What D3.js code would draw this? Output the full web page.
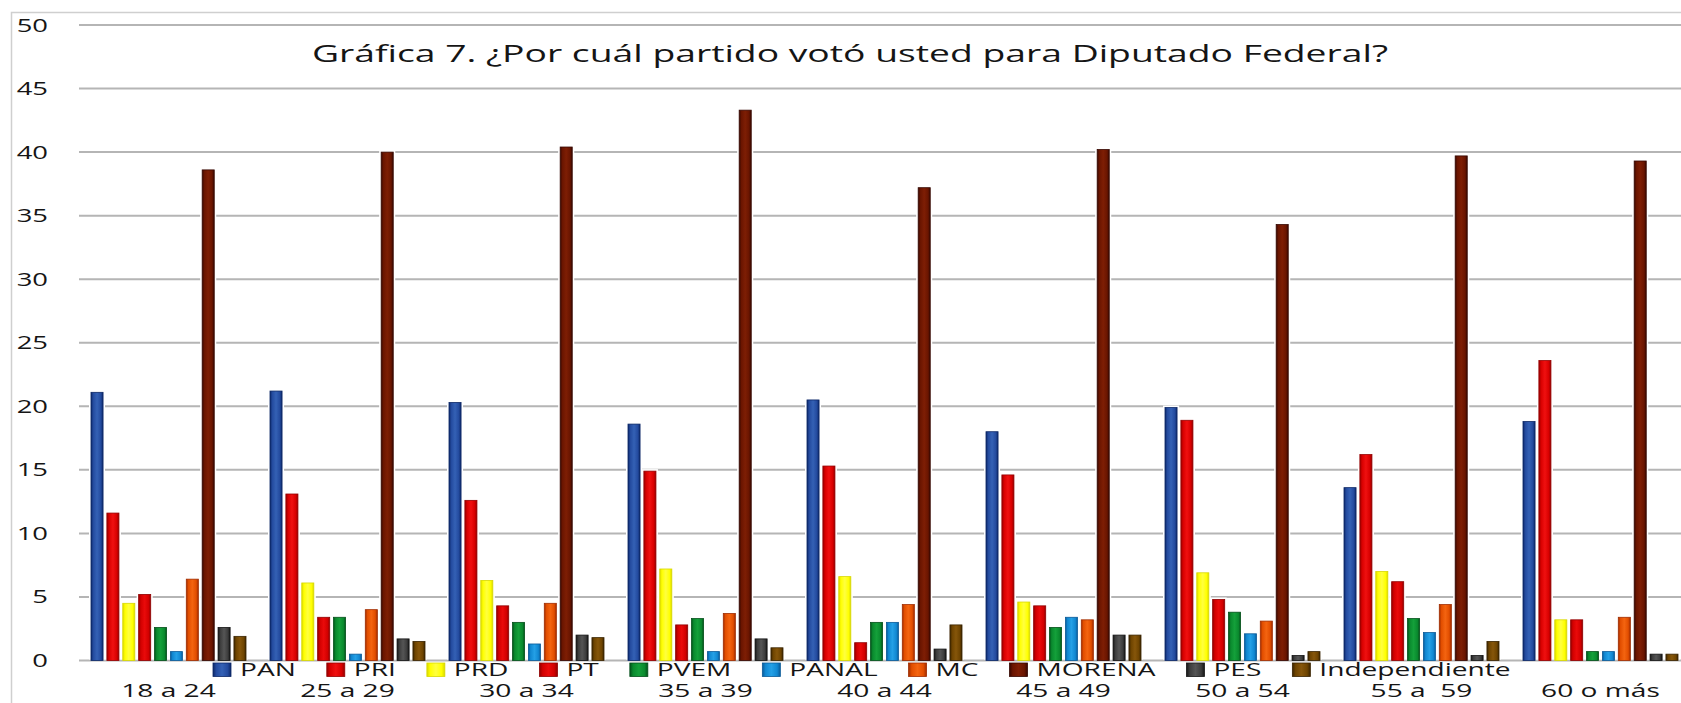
<!DOCTYPE html>
<html><head><meta charset="utf-8">
<script src="https://cdn.jsdelivr.net/npm/d3@7"></script>
<style>
html,body{margin:0;padding:0;background:#fff;overflow:hidden}
text{font-family:"Open Sans","DejaVu Sans",sans-serif;fill:#151515;white-space:pre}
</style></head>
<body><svg id="c" width="1681" height="703"></svg>
<script>
const title = "Gráfica 7. ¿Por cuál partido votó usted para Diputado Federal?";
const categories = ["18 a 24","25 a 29","30 a 34","35 a 39","40 a 44","45 a 49","50 a 54","55 a  59","60 o más"];
const parties = ["PAN","PRI","PRD","PT","PVEM","PANAL","MC","MORENA","PES","Independiente"];
const PAN    = [21.1,21.2,20.3,18.6,20.5,18.0,19.9,13.6,18.8];
const PRI    = [11.6,13.1,12.6,14.9,15.3,14.6,18.9,16.2,23.6];
const PRD    = [4.5,6.1,6.3,7.2,6.6,4.6,6.9,7.0,3.2];
const PT     = [5.2,3.4,4.3,2.8,1.4,4.3,4.8,6.2,3.2];
const PVEM   = [2.6,3.4,3.0,3.3,3.0,2.6,3.8,3.3,0.7];
const PANAL  = [0.7,0.5,1.3,0.7,3.0,3.4,2.1,2.2,0.7];
const MC     = [6.4,4.0,4.5,3.7,4.4,3.2,3.1,4.4,3.4];
const MORENA = [38.6,40.0,40.4,43.3,37.2,40.2,34.3,39.7,39.3];
const PES    = [2.6,1.7,2.0,1.7,0.9,2.0,0.4,0.4,0.5];
const INDEP  = [1.9,1.5,1.8,1.0,2.8,2.0,0.7,1.5,0.5];
const yTicks = [0,5,10,15,20,25,30,35,40,45,50];

const seriesValues = [PAN,PRI,PRD,PT,PVEM,PANAL,MC,MORENA,PES,INDEP];
// [edge, base, highlight]
const colors = [
  ["#0c2766","#234a9e","#3461b5"],
  ["#950000","#d80000","#f01010"],
  ["#d8d800","#ffff00","#ffff40"],
  ["#900000","#d20000","#ea0a0a"],
  ["#03501a","#0a8a2e","#14a03a"],
  ["#0a5a98","#1188d2","#24a0e6"],
  ["#a02c00","#e24e00","#f46410"],
  ["#360700","#6a1500","#7e1e04"],
  ["#141414","#3c3c3c","#555555"],
  ["#3a2400","#6e4400","#86560a"]
];

const SX = 1.48;
const SXL = 1.56;
const svg = d3.select("#c");
const W = 1681, H = 703;
const x0 = 79, x1 = 1690, yBottom = 660.5, yTop = 25;

const defs = svg.append("defs");
colors.forEach((c,i)=>{
  const g = defs.append("linearGradient").attr("id","g"+i).attr("x1","0").attr("x2","1").attr("y1","0").attr("y2","0");
  [[0,c[0]],[0.18,c[1]],[0.5,c[2]],[0.82,c[1]],[1,c[0]]].forEach(s=>g.append("stop").attr("offset",s[0]).attr("stop-color",s[1]));
});

// frame
svg.append("path").attr("d",`M11.5,${H}V12.5H${W}`).attr("fill","none").attr("stroke","#cfcfcf").attr("stroke-width",1.5);

const y = d3.scaleLinear().domain([0,50]).range([yBottom,yTop]);
const xg = d3.scaleBand().domain(categories).range([x0,x1]).paddingInner(0.134).paddingOuter(0.067);
const xs = d3.scaleBand().domain(parties).range([0,xg.bandwidth()]).paddingInner(0.24).paddingOuter(0.0);

// gridlines
const grid = svg.append("g");
grid.selectAll("line").data(yTicks).join("line")
  .attr("x1",x0).attr("x2",x1).attr("y1",d=>y(d)).attr("y2",d=>y(d))
  .attr("stroke","#b5b5b5").attr("stroke-width",2);

// y labels (right aligned at 48)
const yl = svg.append("g").selectAll("text").data(yTicks).join("text")
  .attr("y",d=>y(d)+6.5).attr("font-size",18.5).text(d=>d);
yl.each(function(){
  const len = this.getComputedTextLength()*SX;
  this.setAttribute("textLength",len);
  this.setAttribute("lengthAdjust","spacingAndGlyphs");
  this.setAttribute("x",48-len);
});

// bars
const groups = svg.append("g").selectAll("g").data(categories).join("g")
  .attr("transform",d=>`translate(${xg(d)},0)`);
groups.each(function(cat,ci){
  const data = parties.map((p,pi)=>({p,pi,v:seriesValues[pi][ci]}));
  const g = d3.select(this);
  // thin white halo behind each bar
  g.append("g").selectAll("rect").data(data).join("rect")
    .attr("x",d=>xs(d.p)-2).attr("width",xs.bandwidth()+4)
    .attr("y",d=>y(d.v)-2).attr("height",d=>yBottom-y(d.v)+1)
    .attr("fill","#fff");
  g.append("g").selectAll("rect").data(data).join("rect")
    .attr("x",d=>xs(d.p)).attr("width",xs.bandwidth())
    .attr("y",d=>y(d.v)).attr("height",d=>yBottom-y(d.v))
    .attr("fill",d=>`url(#g${d.pi})`)
    .attr("stroke",d=>colors[d.pi][0]).attr("stroke-width",0.8);
});

// title
const t = svg.append("text").attr("x",312).attr("y",61.5).attr("font-size",24).text(title);
t.attr("textLength",1076).attr("lengthAdjust","spacingAndGlyphs");

// x labels
const xl = svg.append("g").selectAll("text").data(categories).join("text")
  .attr("font-size",19).attr("y",697).text(d=>d);
xl.each(function(d){
  const len = this.getComputedTextLength()*SX;
  this.setAttribute("textLength",len);
  this.setAttribute("lengthAdjust","spacingAndGlyphs");
  this.setAttribute("x",xg(d)+xg.bandwidth()/2-len/2);
});

// legend
let lx = 213;
const leg = svg.append("g");
parties.forEach((p,i)=>{
  leg.append("rect").attr("x",lx).attr("y",663).attr("width",18).attr("height",13.5)
    .attr("fill",`url(#g${i})`).attr("stroke",colors[i][0]).attr("stroke-width",0.8);
  const tx = leg.append("text").attr("x",lx+27).attr("y",676).attr("font-size",18).text(p);
  const len = tx.node().getComputedTextLength()*SXL;
  tx.attr("textLength",len).attr("lengthAdjust","spacingAndGlyphs");
  lx += 27 + len + 31;
});
</script></body></html>
